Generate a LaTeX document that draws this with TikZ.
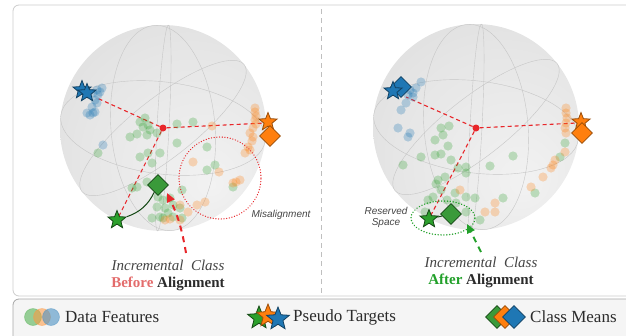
\documentclass[tikz,border=0pt]{standalone}
\usepackage{fontspec}
\setmainfont{Liberation Serif}
\newfontfamily\notesans{Liberation Sans}
\usetikzlibrary{arrows.meta,shapes.geometric,positioning}

\definecolor{tabblue}{HTML}{1F77B4}
\definecolor{taborange}{HTML}{FF7F0E}
\definecolor{tabgreen}{HTML}{2CA02C}
\definecolor{meangreen}{HTML}{3A9A3A}
\definecolor{linered}{HTML}{E8262A}
\definecolor{beforered}{HTML}{E36C6C}
\definecolor{aftergreen}{HTML}{22A02A}
\definecolor{textgray}{HTML}{444444}
\definecolor{textdark}{HTML}{2B2B2B}
\definecolor{sphlight}{HTML}{F2F2F2}
\definecolor{sphmid}{HTML}{E6E6E6}
\definecolor{sphdark}{HTML}{D2D2D2}

\pgfdeclareradialshading{spherefill}{\pgfpoint{12bp}{-14bp}}{color(0bp)=(sphlight); color(26bp)=(sphmid); color(60bp)=(sphdark)}

\tikzset{
  panel/.style={draw=gray!40, line width=0.8pt, rounded corners=6pt},
  legendbox/.style={draw=gray!70, fill=gray!8, line width=0.8pt, rounded corners=6pt},
  divider/.style={draw=gray!50, line width=0.8pt, dash pattern=on 5pt off 4pt},
  grid/.style={draw=gray!45, line width=0.4pt},
  centerdot/.style={circle, fill=linered, inner sep=0pt, minimum size=7pt},
  refline/.style={linered, line width=1.1pt, dash pattern=on 4pt off 3pt},
  target/.style={star, star points=5, star point ratio=2.3, minimum size=19pt, inner sep=0pt, line width=0.8pt},
  classmean/.style={diamond, minimum size=21pt, inner sep=0pt, line width=0.8pt},
  misarrow/.style={-{Triangle[length=9pt,width=8pt]}, line width=2pt, dash pattern=on 6pt off 5pt},
  captext/.style={font=\fontsize{15}{17}\selectfont\itshape, text=textgray},
  alntext/.style={font=\fontsize{15}{17}\selectfont\bfseries, text=textdark},
  notetext/.style={font=\notesans\fontsize{10}{11}\selectfont\itshape, text=textgray, align=center},
  legendtext/.style={font=\fontsize{17}{20}\selectfont, text=textdark, anchor=west, inner sep=0pt}
}

\begin{document}
\begin{tikzpicture}[x=1pt,y=-1pt]
\useasboundingbox (0,0) rectangle (626,335);

% frames
\draw[panel] (13,5) rectangle (660,296);
\draw[legendbox] (13,299) rectangle (660,360);
\draw[divider] (321,9) -- (321,294);

% spheres with wire grid
\foreach \cx/\cy in {163/128,476/127}{
  \shade[shading=spherefill] (\cx,\cy) circle[radius=103pt];
  \draw[grid] (\cx,\cy) ellipse[x radius=103pt, y radius=46pt, rotate=-7];
  \draw[grid] (\cx,\cy) ellipse[x radius=52pt, y radius=103pt, rotate=5];
  \draw[grid] (\cx,\cy) ellipse[x radius=6pt, y radius=103pt, rotate=-3];
  \draw[grid] (\cx,\cy) ellipse[x radius=103pt, y radius=30pt, rotate=38];
}

% centres
\node[centerdot] (cL) at (163,128) {};
\node[centerdot] (cR) at (476,128) {};

% ---- before alignment
\coordinate (bL) at (97,98);
\coordinate (tgLpos) at (117,220);
\draw[refline] (cL) -- (bL);
\draw[refline] (cL) -- (266,123);
\draw[refline] (cL) -- (tgLpos);

\foreach \x/\y in {140/122,143/127,148/125,137/134,147/135,130/137,157/133,177/124,193/122,177/143,98/153,140/157,148/153,160/153,152/163,207/147,215/165,207/170,147/182,137/187,132/188,233/187,158/197,163/200,170/198,157/207,165/208,173/205,168/213,160/217,152/218,163/218,173/217,182/218,180/208,182/190,145/118,150/130}
  \fill[tabgreen, fill opacity=0.27] (\x,\y) circle[radius=4.6pt];
\foreach \x/\y in {97/90,100/92,93/93,98/95,95/100,97/103,92/107,87/113,93/113,90/115,95/112,103/145,102/88}
  \fill[tabblue, fill opacity=0.28] (\x,\y) circle[radius=4.6pt];
\foreach \x/\y in {255/108,255/112,256/116,255/120,256/124,253/128,250/133,253/137,252/141,248/147,245/153,250/150,212/126,193/162,219/172,233/183,240/180,236/182,197/205,205/202,188/212,180/205,165/220,180/220,170/219}
  \fill[taborange, fill opacity=0.27] (\x,\y) circle[radius=4.6pt];

\node[target, fill=tabblue, draw=tabblue!55!black] (tbL1) at (82,90) {};
\node[target, fill=tabblue, draw=tabblue!55!black] (tbL2) at (87,93) {};
\node[target, fill=taborange, draw=taborange!60!black] (toL) at (268,122) {};
\node[classmean, fill=taborange, draw=taborange!60!black] (moL) at (270,136) {};
\node[classmean, fill=meangreen, draw=tabgreen!45!black] (mgL) at (158,185) {};
\node[target, fill=tabgreen, draw=tabgreen!45!black] (tgL) at (tgLpos) {};
\draw[tabgreen!45!black, line width=1pt] (tgL) to[bend right=22] (mgL);

\node[circle, draw=linered, line width=1.3pt, dash pattern=on 0.1pt off 2.6pt, line cap=round, minimum size=82pt] (missL) at (220,178) {};
\node[notetext] (missText) at (281,215) {Misalignment};

\coordinate (arLs) at (186,253);
\coordinate (arLe) at (167,193);
\draw[misarrow, linered] (arLs) to[bend right=8] (arLe);

\node[captext] (incL) at (168,265) {Incremental\ \ Class};
\node[alntext, below=0pt of incL] (alnL) {\textcolor{beforered}{Before} Alignment};

% ---- after alignment
\coordinate (bR) at (406,97);
\coordinate (tgRpos) at (429,219);
\draw[refline] (cR) -- (bR);
\draw[refline] (cR) -- (577,123);
\draw[refline] (cR) -- (tgRpos);

\foreach \x/\y in {449/126,441/128,443/135,435/140,448/146,435/155,441/154,421/157,403/165,451/160,458/168,466/167,466/173,490/166,513/156,438/180,436/184,445/177,455/193,466/197,475/198,433/197,428/200,503/198,535/193,560/157,565/143,456/203,466/212,480/220,425/212,441/190,447/200}
  \fill[tabgreen, fill opacity=0.27] (\x,\y) circle[radius=4.6pt];
\foreach \x/\y in {405/88,410/90,413/93,408/95,416/88,421/82,413/97,406/103,401/110,398/128,410/133,408/137}
  \fill[tabblue, fill opacity=0.28] (\x,\y) circle[radius=4.6pt];
\foreach \x/\y in {566/108,566/113,567/118,566/123,565/128,566/133,565/152,555/160,553/165,551/168,543/177,531/187,495/203,495/212,485/212,460/190}
  \fill[taborange, fill opacity=0.27] (\x,\y) circle[radius=4.6pt];

\node[classmean, fill=tabblue, draw=tabblue!55!black] (mbR) at (401,87) {};
\node[target, fill=tabblue, draw=tabblue!55!black] (tbR) at (393,91) {};
\node[target, fill=taborange, draw=taborange!60!black] (toR) at (581,122) {};
\node[classmean, fill=taborange, draw=taborange!60!black] (moR) at (582,133) {};
\node[target, fill=tabgreen, draw=tabgreen!45!black] (tgR) at (tgRpos) {};
\node[classmean, fill=meangreen, draw=tabgreen!45!black] (mgR) at (451,214) {};
\draw[tabgreen!45!black, line width=1pt] (tgR) -- (mgR);

\node[ellipse, draw=aftergreen, line width=1.5pt, dash pattern=on 0.1pt off 2.8pt, line cap=round, minimum width=64pt, minimum height=34pt] (resR) at (443,218) {};
\node[notetext] (resText) at (386,217) {Reserved\\Space};

\coordinate (arRs) at (481,252);
\coordinate (arRe) at (467,224);
\draw[misarrow, aftergreen] (arRs) -- (arRe);

\node[captext] (incR) at (481,262) {Incremental\ \ Class};
\node[alntext, below=0pt of incR] (alnR) {\textcolor{aftergreen}{After} Alignment};

% ---- legend
\filldraw[tabgreen!80, fill opacity=0.6, draw opacity=0.5, line width=0.6pt] (33,317) circle[radius=8.5pt];
\filldraw[taborange!80, fill opacity=0.55, draw opacity=0.5, line width=0.6pt] (42,317) circle[radius=8.5pt];
\filldraw[tabblue!80, fill opacity=0.6, draw opacity=0.5, line width=0.6pt] (51,317) circle[radius=8.5pt];
\node[legendtext] (lgData) at (65,317) {Data Features};

\node[target, minimum size=24pt, fill=tabgreen, draw=tabgreen!45!black] (lgT1) at (259,318) {};
\node[target, minimum size=24pt, fill=taborange, draw=taborange!60!black] (lgT2) at (268,316) {};
\node[target, minimum size=24pt, fill=tabblue, draw=tabblue!55!black] (lgT3) at (278,319) {};
\node[legendtext] (lgTarget) at (293,317) {Pseudo Targets};

\node[classmean, minimum size=23pt, fill=meangreen, draw=tabgreen!45!black] (lgM1) at (497,317) {};
\node[classmean, minimum size=23pt, fill=taborange, draw=taborange!60!black] (lgM2) at (505,317) {};
\node[classmean, minimum size=23pt, fill=tabblue, draw=tabblue!55!black] (lgM3) at (514,317) {};
\node[legendtext] (lgMean) at (530,317) {Class Means};
\end{tikzpicture}
\end{document}
